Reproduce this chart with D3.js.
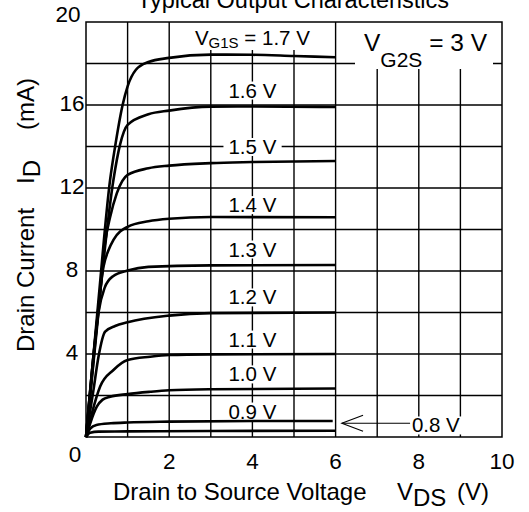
<!DOCTYPE html>
<html><head><meta charset="utf-8">
<script src="https://cdn.jsdelivr.net/npm/d3@7"></script>
<style>body{margin:0;background:#fff}svg{display:block;font-family:"Liberation Sans",Arial,sans-serif}</style>
</head><body><svg id="c" width="529" height="512"></svg>
<script>
// ---- data ----
const xTicks = [0, 2, 4, 6, 8, 10];
const yTicks = [0, 4, 8, 12, 16, 20];
const gateVoltages = ["1.7", "1.6", "1.5", "1.4", "1.3", "1.2", "1.1", "1.0", "0.9", "0.8"];
const curve17 = [[0,0],[0.3,6.6],[0.58,12.4],[0.7,14],[0.88,16],[1.0,16.9],[1.2,17.7],[1.5,18.07],[2,18.27],[3,18.43],[4,18.42],[5,18.36],[6,18.3]];
const curve16 = [[0,0],[0.3,6.2],[0.66,12.4],[0.82,14.1],[1.0,15.04],[1.5,15.55],[2,15.73],[3,15.92],[4,15.93],[6,15.9]];
const curve15 = [[0,0],[0.3,6.0],[0.46,9.4],[0.58,10.6],[0.74,11.74],[1.0,12.63],[1.5,12.95],[2,13.08],[3,13.2],[4,13.25],[6,13.3]];
const curve14 = [[0,0],[0.25,5.3],[0.42,8.2],[0.54,9.0],[0.66,9.5],[1.0,10.13],[1.5,10.4],[2,10.52],[3,10.6],[6,10.59]];
const curve13 = [[0,0],[0.2,4.3],[0.3,6.0],[0.45,7.2],[0.65,7.75],[1.0,8.02],[1.5,8.2],[3,8.27],[6,8.29]];
const curve12 = [[0,0],[0.18,2.27],[0.3,3.87],[0.46,5.08],[0.7,5.35],[1,5.53],[2,5.85],[3,5.97],[6,6.0]];
const curve11 = [[0,0],[0.14,1.13],[0.34,2.43],[0.66,3.23],[1,3.71],[1.54,3.87],[2,3.95],[3,3.98],[6,4.0]];
const curve10 = [[0,0],[0.1,0.65],[0.26,1.46],[0.4,1.8],[0.58,1.94],[1,2.07],[1.54,2.18],[2,2.25],[3,2.3],[6,2.34]];
const curve09 = [[0,0],[0.1,0.4],[0.25,0.58],[0.6,0.66],[1,0.7],[2,0.74],[4,0.77],[5.93,0.77]];
const curve08 = [[0,0],[0.1,0.2],[0.3,0.26],[1,0.27],[3,0.29],[6,0.3]];
const curves = [curve17, curve16, curve15, curve14, curve13, curve12, curve11, curve10, curve09, curve08];

// ---- layout ----
const svg = d3.select("#c");
const x = d3.scaleLinear([0, 10], [86, 502]);
const y = d3.scaleLinear([0, 20], [437, 22]);
const FONT = '"Liberation Sans",Arial,sans-serif';

// grid
const grid = svg.append("g").attr("stroke", "#000").attr("stroke-width", 1.4);
grid.selectAll(".v").data(d3.range(1, 10)).join("line")
  .attr("x1", d => x(d)).attr("x2", d => x(d)).attr("y1", y(0)).attr("y2", y(20));
grid.selectAll(".h").data(d3.range(2, 20, 2)).join("line")
  .attr("y1", d => y(d)).attr("y2", d => y(d)).attr("x1", x(0)).attr("x2", x(10));

const boxes = svg.append("g");
svg.append("rect").attr("x", x(0)).attr("y", y(20))
  .attr("width", x(10) - x(0)).attr("height", y(0) - y(20))
  .attr("fill", "none").attr("stroke", "#000").attr("stroke-width", 1.5);

// curves
const line = d3.line().x(d => x(d[0])).y(d => y(d[1])).curve(d3.curveMonotoneX);
svg.append("g").selectAll("path").data(curves).join("path")
  .attr("d", line).attr("fill", "none").attr("stroke", "#000")
  .attr("stroke-width", 2.6).attr("stroke-linejoin", "round");

const texts = svg.append("g").attr("fill", "#000").style("font-family", FONT);

// curve labels (1.6 .. 0.9) centred at 4 V
const labelY = [16.72, 14.0, 11.2, 9.06, 6.75, 4.72, 3.04, 1.25];
gateVoltages.slice(1, 9).forEach((g, i) => {
  const t = texts.append("text").attr("x", x(4)).attr("y", y(labelY[i]))
    .attr("text-anchor", "middle").attr("dominant-baseline", "central")
    .attr("font-size", 20.5).text(g + " V");
  const b = t.node().getBBox();
  boxes.append("rect").attr("x", b.x - 5).attr("y", b.y + 3).attr("width", b.width + 10)
    .attr("height", b.height - 5).attr("fill", "#fff");
});

// V_G1S = 1.7 V label
boxes.append("rect").attr("x", 190).attr("y", y(20)).attr("width", 125).attr("height", 28).attr("fill", "#fff");
const t17 = texts.append("text").attr("x", x(4)).attr("y", 45).attr("text-anchor", "middle").attr("font-size", 20.5);
t17.append("tspan").text("V");
t17.append("tspan").attr("font-size", 15).attr("dy", 3).text("G1S");
t17.append("tspan").attr("dy", -3).text(" = " + gateVoltages[0] + " V");

// V_G2S = 3 V
boxes.append("rect").attr("x", 355).attr("y", y(20)).attr("width", 138).attr("height", 47).attr("fill", "#fff");
const tg2 = texts.append("text").attr("x", 364).attr("y", 51).attr("font-size", 24.5);
tg2.append("tspan").text("V");
tg2.append("tspan").attr("font-size", 21).attr("dy", 16).text("G2S");
tg2.append("tspan").attr("dy", -16).text(" = 3 V");

// 0.8 V label with arrow
const t08 = texts.append("text").attr("x", x(8.41)).attr("y", y(0.58))
  .attr("text-anchor", "middle").attr("dominant-baseline", "central")
  .attr("font-size", 20.5).text(gateVoltages[9] + " V");
{
  const b = t08.node().getBBox();
  boxes.append("rect").attr("x", b.x - 4).attr("y", b.y + 3).attr("width", b.width + 8)
    .attr("height", b.height - 5).attr("fill", "#fff");
}
const ay = y(0.66);
const arrow = svg.append("g").attr("stroke", "#000").attr("stroke-width", 1.1).attr("fill", "none");
arrow.append("line").attr("x1", x(6.15)).attr("x2", x(7.79)).attr("y1", ay).attr("y2", ay);
arrow.append("polyline").attr("points", [[x(6.66), ay - 8], [x(6.15), ay], [x(6.66), ay + 8]].map(p => p.join(",")).join(" "));

// tick labels
texts.selectAll(".xt").data(xTicks.filter(d => d > 0)).join("text")
  .attr("x", d => x(d)).attr("y", 469).attr("text-anchor", "middle").attr("font-size", 22.5).text(d => d);
texts.append("text").attr("x", 75).attr("y", 462).attr("text-anchor", "middle").attr("font-size", 22.5).text(xTicks[0]);
texts.selectAll(".yt").data(yTicks.filter(d => d > 0)).join("text")
  .attr("x", d => d === 20 ? 68 : 72).attr("y", d => d === 20 ? 22 : y(d) + 6)
  .attr("text-anchor", "middle").attr("font-size", 22.5).text(d => d);

// title (clipped at the top edge, as in the reference)
texts.append("text").attr("x", 293).attr("y", 8).attr("text-anchor", "middle").attr("font-size", 23.5).text("Typical Output Characteristics");

// x axis title
const xt = texts.append("text").attr("x", 113).attr("y", 500).attr("font-size", 24);
xt.append("tspan").text("Drain to Source Voltage");
xt.append("tspan").attr("x", 397).text("V");
xt.append("tspan").attr("dy", 6).text("DS");
xt.append("tspan").attr("dy", -6).attr("x", 457).text("(V)");

// y axis title
const yt = texts.append("text").attr("transform", "translate(34,352) rotate(-90)").attr("font-size", 24);
yt.append("tspan").text("Drain Current");
yt.append("tspan").attr("x", 168).text("I");
yt.append("tspan").attr("dy", 6).text("D");
yt.append("tspan").attr("dy", -6).attr("x", 222).text("(mA)");
</script></body></html>
